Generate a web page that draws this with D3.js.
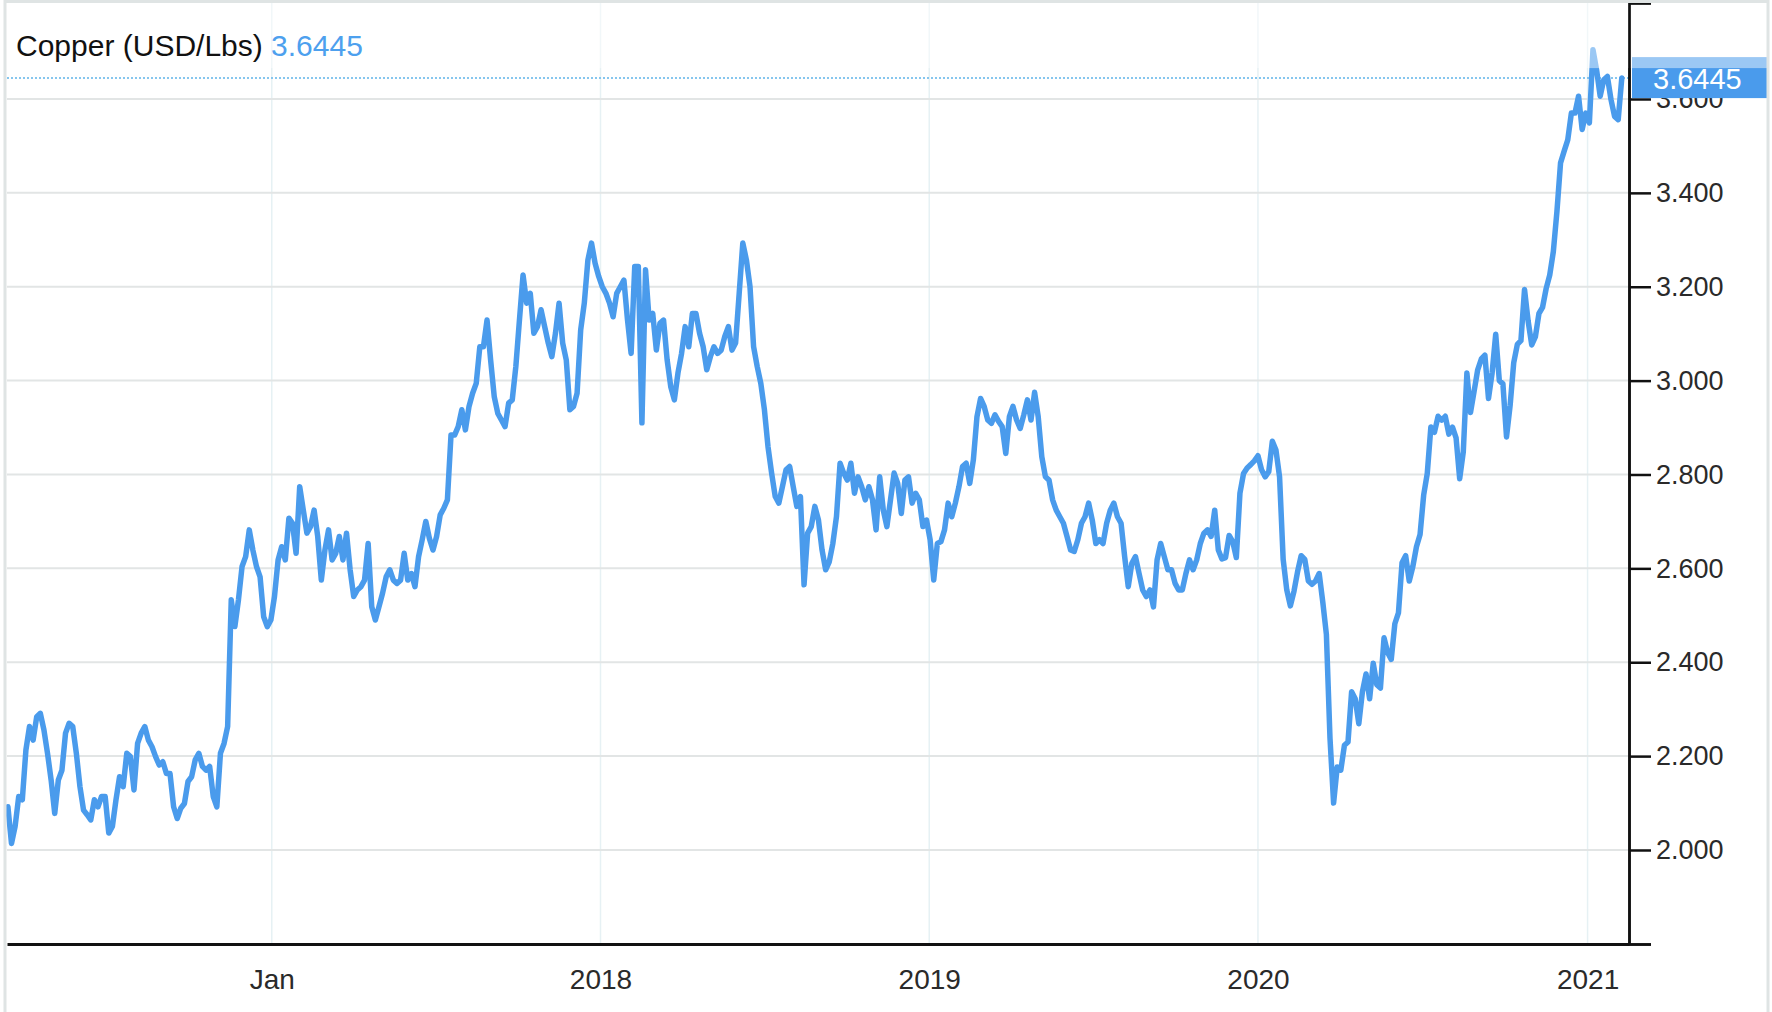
<!DOCTYPE html>
<html>
<head>
<meta charset="utf-8">
<script src="https://cdn.jsdelivr.net/npm/d3@7"></script>
<style>
  html, body { margin: 0; padding: 0; background: #ffffff; }
  svg { display: block; font-family: "Liberation Sans", Arial, sans-serif; }
</style>
</head>
<body>
<svg id="chart" width="1772" height="1012"></svg>
<script>
// ---- data ----
const seriesName = "Copper (USD/Lbs)";
const lastValue = 3.6445;
const startDate = "2016-03-14";   // first sample
const stepDays = 4;               // sampling interval of the values below
const values = [
2.092,2.014,2.050,2.114,2.107,2.213,2.263,2.234,2.284,2.291,
2.256,2.206,2.149,2.078,2.149,2.170,2.249,2.270,2.263,2.206,
2.135,2.085,2.075,2.064,2.107,2.092,2.114,2.114,2.036,2.050,
2.107,2.156,2.135,2.206,2.199,2.128,2.227,2.249,2.263,2.234,
2.220,2.199,2.181,2.188,2.163,2.163,2.092,2.067,2.089,2.099,
2.146,2.156,2.192,2.206,2.178,2.170,2.178,2.114,2.092,2.206,
2.227,2.263,2.533,2.476,2.533,2.604,2.625,2.682,2.639,2.604,
2.582,2.497,2.476,2.490,2.540,2.618,2.646,2.618,2.707,2.696,
2.632,2.774,2.724,2.675,2.689,2.724,2.668,2.575,2.639,2.682,
2.618,2.632,2.668,2.618,2.675,2.597,2.540,2.554,2.561,2.575,
2.653,2.518,2.490,2.518,2.547,2.582,2.597,2.575,2.568,2.575,
2.632,2.575,2.589,2.561,2.625,2.661,2.700,2.664,2.639,2.668,
2.714,2.728,2.746,2.884,2.884,2.902,2.938,2.895,2.945,2.973,
2.994,3.072,3.072,3.129,3.044,2.966,2.930,2.916,2.902,2.952,
2.959,3.030,3.129,3.225,3.165,3.186,3.101,3.115,3.151,3.115,
3.080,3.051,3.101,3.165,3.080,3.044,2.938,2.945,2.973,3.108,
3.165,3.257,3.293,3.250,3.222,3.200,3.186,3.165,3.136,3.186,
3.200,3.214,3.129,3.058,3.243,3.243,2.910,3.236,3.129,3.143,
3.065,3.122,3.129,3.044,2.987,2.959,3.016,3.058,3.115,3.072,
3.143,3.143,3.101,3.072,3.023,3.051,3.072,3.058,3.065,3.094,
3.115,3.065,3.080,3.186,3.293,3.257,3.200,3.072,3.030,2.994,
2.938,2.859,2.803,2.753,2.739,2.774,2.810,2.817,2.774,2.732,
2.753,2.565,2.675,2.689,2.732,2.703,2.639,2.597,2.614,2.653,
2.710,2.824,2.803,2.788,2.824,2.760,2.795,2.774,2.746,2.774,
2.746,2.682,2.795,2.724,2.689,2.746,2.803,2.781,2.717,2.788,
2.795,2.739,2.760,2.746,2.689,2.703,2.661,2.575,2.653,2.657,
2.682,2.739,2.710,2.739,2.774,2.817,2.824,2.781,2.831,2.923,
2.962,2.945,2.916,2.909,2.927,2.913,2.902,2.845,2.923,2.945,
2.916,2.898,2.927,2.959,2.916,2.975,2.923,2.838,2.795,2.788,
2.746,2.724,2.710,2.696,2.668,2.639,2.636,2.661,2.696,2.710,
2.739,2.703,2.653,2.661,2.653,2.696,2.724,2.739,2.710,2.696,
2.625,2.561,2.611,2.625,2.589,2.554,2.540,2.554,2.518,2.618,
2.653,2.625,2.597,2.597,2.568,2.554,2.554,2.589,2.618,2.597,
2.618,2.653,2.675,2.682,2.668,2.724,2.639,2.620,2.623,2.670,
2.657,2.623,2.760,2.802,2.814,2.821,2.829,2.840,2.810,2.795,
2.806,2.871,2.852,2.795,2.619,2.554,2.520,2.551,2.593,2.627,
2.619,2.573,2.566,2.573,2.589,2.528,2.459,2.238,2.100,2.177,
2.170,2.223,2.230,2.337,2.322,2.269,2.337,2.375,2.322,2.398,
2.352,2.345,2.452,2.421,2.406,2.482,2.505,2.612,2.627,2.573,
2.604,2.646,2.672,2.756,2.802,2.901,2.890,2.924,2.916,2.924,
2.886,2.901,2.878,2.791,2.848,3.016,2.932,2.977,3.023,3.046,
3.054,2.962,3.016,3.099,3.000,2.993,2.880,2.947,3.038,3.077,
3.085,3.194,3.127,3.076,3.093,3.143,3.156,3.196,3.225,3.275,
3.361,3.464,3.489,3.513,3.570,3.570,3.606,3.535,3.570,3.549,
3.705,3.662,3.606,3.641,3.648,3.599,3.563,3.556,3.6445
];
const xTickDates = ["2017-01-01","2018-01-01","2019-01-01","2020-01-01","2021-01-01"];
const xTickLabels = ["Jan","2018","2019","2020","2021"];
const yTickValues = [2.0,2.2,2.4,2.6,2.8,3.0,3.2,3.4,3.6];
const xDomain = ["2016-03-13","2021-02-16"];
const yDomain = [1.7997, 3.8045];

// ---- layout ----
const W = 1772, H = 1012;
const plotLeft = 7, plotRight = 1629, plotTop = 3, plotBottom = 944;
const lineColor = "#4a9bec";

const parse = d3.utcParse("%Y-%m-%d");
const t0 = parse(startDate);
const data = values.map((v, i) => ({ date: d3.utcDay.offset(t0, i * stepDays), value: v }));

const x = d3.scaleUtc().domain(xDomain.map(parse)).range([plotLeft, plotRight]);
const y = d3.scaleLinear().domain(yDomain).range([plotBottom, plotTop]);

const svg = d3.select("#chart");
svg.append("rect").attr("width", W).attr("height", H).attr("fill", "#ffffff");

// vertical gridlines
svg.append("g").selectAll("line").data(xTickDates.map(parse)).join("line")
  .attr("x1", d => x(d)).attr("x2", d => x(d))
  .attr("y1", plotTop).attr("y2", plotBottom)
  .attr("stroke", "#e6f1f4").attr("stroke-width", 1.5);

// horizontal gridlines
svg.append("g").selectAll("line").data(yTickValues).join("line")
  .attr("x1", plotLeft).attr("x2", plotRight)
  .attr("y1", d => y(d)).attr("y2", d => y(d))
  .attr("stroke", "#e2e5e5").attr("stroke-width", 2);

// dotted last-value line
svg.append("line")
  .attr("x1", plotLeft).attr("x2", plotRight)
  .attr("y1", y(lastValue)).attr("y2", y(lastValue))
  .attr("stroke", "#86c6ee").attr("stroke-width", 2)
  .attr("stroke-dasharray", "2,2");

// series line
const line = d3.line().x(d => x(d.date)).y(d => y(d.value));
svg.append("path").datum(data)
  .attr("d", line)
  .attr("fill", "none")
  .attr("stroke", lineColor)
  .attr("stroke-width", 5.5)
  .attr("stroke-linejoin", "round")
  .attr("stroke-linecap", "round");

// x axis
const xAxis = d3.axisBottom(x)
  .tickValues(xTickDates.map(parse))
  .tickFormat((d, i) => xTickLabels[i])
  .tickSize(0).tickSizeOuter(0).tickPadding(25);
const gx = svg.append("g").attr("transform", `translate(0,${plotBottom})`).call(xAxis);
gx.select(".domain").attr("stroke", "#111").attr("stroke-width", 3);
gx.selectAll("text").attr("font-size", 28).attr("fill", "#2a2a2a")
  .attr("font-family", "Liberation Sans, Arial, sans-serif");

// y axis (ticks + labels)
const yAxis = d3.axisRight(y)
  .tickValues(yTickValues)
  .tickFormat(d3.format(".3f"))
  .tickSize(22).tickSizeOuter(22).tickPadding(5);
const gy = svg.append("g").attr("transform", `translate(${plotRight},0)`).call(yAxis);
gy.select(".domain").attr("stroke", "#111").attr("stroke-width", 2.5);
gy.selectAll(".tick line").attr("stroke", "#111").attr("stroke-width", 2.5);
gy.selectAll("text").attr("font-size", 27).attr("fill", "#2a2a2a")
  .attr("font-family", "Liberation Sans, Arial, sans-serif");

// last value label box (covers the top half of the 3.600 label, as in the reference)
const ly = y(lastValue);
svg.append("rect")
  .attr("x", plotRight + 3).attr("y", ly - 21)
  .attr("width", 135).attr("height", 41)
  .attr("fill", lineColor);
svg.append("text")
  .attr("x", plotRight + 24).attr("y", ly)
  .attr("dy", "0.36em")
  .attr("font-size", 29).attr("fill", "#ffffff")
  .text(d3.format(".4f")(lastValue));

// translucent header band
svg.append("rect")
  .attr("x", 0).attr("y", 0).attr("width", W).attr("height", ly - 10)
  .attr("fill", "#ffffff").attr("fill-opacity", 0.45);

// y axis domain bracket redrawn on top
const gy2 = svg.append("g").attr("transform", `translate(${plotRight},0)`)
  .call(d3.axisRight(y).tickValues([]).tickSizeOuter(22));
gy2.select(".domain").attr("stroke", "#111").attr("stroke-width", 2.5);

// title
const title = svg.append("text").attr("x", 16).attr("y", 56).attr("font-size", 30);
title.append("tspan").attr("fill", "#111").text(seriesName + " ");
title.append("tspan").attr("fill", "#4da0ee").text(d3.format(".4f")(lastValue));

// outer frame
svg.append("rect")
  .attr("x", 5).attr("y", 1.5).attr("width", 1763).attr("height", 1030)
  .attr("fill", "none").attr("stroke", "#dfe4e4").attr("stroke-width", 3);
</script>
</body>
</html>
